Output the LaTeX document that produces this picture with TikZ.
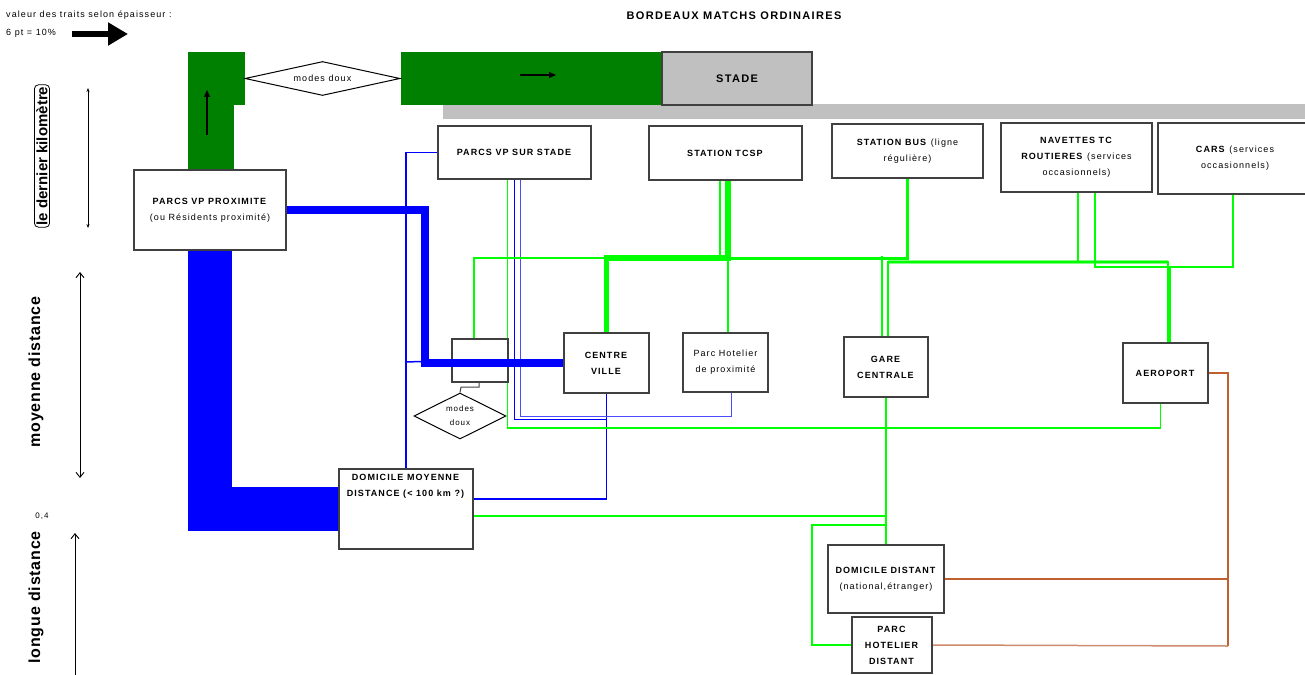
\documentclass[tikz,border=0pt]{standalone}
\usepackage{fontspec}
\setmainfont{Liberation Sans}[LetterSpace=12]
\usetikzlibrary{shapes.geometric,arrows.meta,backgrounds}
\definecolor{fieldgreen}{RGB}{0,128,0}
\definecolor{stadegray}{RGB}{192,192,192}
\definecolor{boxline}{RGB}{64,64,64}
\definecolor{carblue}{RGB}{0,0,255}
\definecolor{tcgreen}{RGB}{0,255,0}
\definecolor{tclight}{RGB}{128,255,128}
\definecolor{airbrown}{RGB}{192,96,48}
\definecolor{airbrownlight}{RGB}{205,140,110}

\begin{document}
\begin{tikzpicture}[x=1pt,y=-1pt]
            \tikzstyle{every node} = [font=\fontsize{9}{16}\selectfont, inner sep=1pt]
            \tikzstyle{site} = [draw=boxline, line width=1.4pt, fill=white, align=center]
            \tikzstyle{douxmode} = [draw=black, line width=1pt, fill=white, diamond, inner sep=0pt, align=center]
            \tikzstyle{zonelabel} = [rotate=90, font=\bfseries\fontsize{16}{18}\selectfont\addfontfeatures{LetterSpace=5}]
            \tikzstyle{carthin} = [carblue, line width=1.5pt]
            \tikzstyle{tcthin} = [tcgreen, line width=1.6pt]
            \tikzstyle{tcmid} = [tcgreen, line width=3pt]
            \tikzstyle{tcthick} = [tcgreen, line width=5.5pt]
            \tikzstyle{airline} = [airbrown, line width=1.5pt]
            \tikzstyle{zonearrow} = [line width=0.9pt, {Straight Barb[length=5pt,width=8pt]}-{Straight Barb[length=5pt,width=8pt]}]
            \useasboundingbox (0,0) rectangle (1305,674);

            % legende et titre
            \node[anchor=west, font=\fontsize{9}{10}\selectfont] (legtext) at (5,15) {valeur des traits selon épaisseur :};
            \node[anchor=west, font=\fontsize{9}{10}\selectfont] (legscale) at (5,33) {6 pt = 10\%};
            \draw[line width=6pt, -{Triangle[length=20pt,width=22pt]}] (72,34) -- (128,34);
            \node[font=\bfseries\fontsize{11}{13}\selectfont] (title) at (734,16) {BORDEAUX MATCHS ORDINAIRES};

            % zones
            \node[draw=black, line width=0.8pt, rounded corners=4pt, rotate=90, inner sep=2pt,
                font=\bfseries\fontsize{15}{17}\selectfont\addfontfeatures{LetterSpace=0}] (lastkm) at (42,156) {le dernier kilomètre};
            \draw[line width=0.8pt, {Stealth[length=4pt,width=3pt]}-{Stealth[length=4pt,width=3pt]}] (88,88) -- (88,228);
            \node[zonelabel] (middist) at (36,372) {moyenne distance};
            \draw[zonearrow] (80,272) -- (80,478);
            \node[font=\fontsize{8}{10}\selectfont] (ratio) at (42,516) {0,4};
            \node[zonelabel, anchor=east] (longdist) at (36,530) {longue distance};
            \draw[zonearrow] (75,533) -- (75,684);

            % lieux
            \node[site, fill=stadegray, minimum width=150pt, minimum height=53pt,
                font=\bfseries\fontsize{11}{13}\selectfont] (stade) at (737,78.5) {STADE};
            \node[douxmode, aspect=4.5, minimum width=155pt, minimum height=34pt] (md1) at (322.5,78.5) {modes doux};
            \node[site, minimum width=152pt, minimum height=80pt] (pvp) at (210,210)
                {\textbf{PARCS VP PROXIMITE}\\(ou Résidents proximité)};
            \node[site, minimum width=153pt, minimum height=53pt] (pvs) at (514.5,152.5) {\textbf{PARCS VP SUR STADE}};
            \node[site, minimum width=153pt, minimum height=54pt] (tcsp) at (725.5,153) {\textbf{STATION TCSP}};
            \node[site, minimum width=151pt, minimum height=54pt] (bus) at (907.5,151) {\textbf{STATION BUS} (ligne\\régulière)};
            \node[site, minimum width=151pt, minimum height=69pt] (nav) at (1076.5,157.5)
                {\textbf{NAVETTES TC}\\\textbf{ROUTIERES} (services\\occasionnels)};
            \node[site, minimum width=154pt, minimum height=71pt] (cars) at (1235,158.5) {\textbf{CARS} (services\\occasionnels)};
            \node[site, minimum width=56pt, minimum height=43pt] (pr) at (480,360.5) {};
            \node[douxmode, aspect=2, minimum width=92pt, minimum height=46pt, font=\fontsize{8}{14}\selectfont] (md2) at (460,416) {modes\\doux};
            \node[site, minimum width=85pt, minimum height=60pt] (cv) at (606.5,363) {\textbf{CENTRE}\\\textbf{VILLE}};
            \node[site, minimum width=85pt, minimum height=59pt] (php) at (725.5,362.5) {Parc Hotelier\\de proximité};
            \node[site, minimum width=84pt, minimum height=60pt] (gc) at (886,367) {\textbf{GARE}\\\textbf{CENTRALE}};
            \node[site, minimum width=85pt, minimum height=60pt] (aero) at (1165.5,373) {\textbf{AEROPORT}};
            \node[site, minimum width=134pt, minimum height=80pt] (dmd) at (406,509)
                {\textbf{DOMICILE MOYENNE}\\\textbf{DISTANCE (< 100 km ?)}\\\mbox{}\\\mbox{}\\\mbox{}};
            \node[site, minimum width=116pt, minimum height=68pt] (dd) at (886,579) {\textbf{DOMICILE DISTANT}\\(national,étranger)};
            \node[site, minimum width=80pt, minimum height=56pt] (phd) at (892,645) {\textbf{PARC}\\\textbf{HOTELIER}\\\textbf{DISTANT}};

            \draw[boxline, line width=1pt] (pr.south -| 479,0) -- (479,387) -- (461,387) -- (md2.north);

            \begin{pgfonlayer}{background}
            \fill[stadegray] (443,104) rectangle (1305,119);
            \draw[fieldgreen, line width=53pt] (md1.east) -- (stade.west);
            \draw[fieldgreen, line width=53pt] (md1.west) -- ++(-57,0);
            \draw[fieldgreen, line width=46pt] ([xshift=1pt]pvp.north) -- ++(0,-67);

            % voitures
            \draw[carblue, line width=44pt] (pvp.south) |- (dmd.west);
            \draw[carthin] (pvs.west) -| (dmd.north);
            \draw[carthin] (406,362) -- (pr.west);
            \draw[carthin] (cv.south) |- ([yshift=10pt]dmd.east);
            \draw[carthin] (pvs.south) -- ++(0,240) -| (cv.south);
            \draw[carthin, carblue!70] ([xshift=6pt]pvs.south) -- ++(0,237) -| ([xshift=6pt]php.south);

            % transports collectifs
            \coordinate (cvj) at (606.5,258);
            \coordinate (tcj) at (728,258);
            \coordinate (aj) at (1168,262);
            \coordinate (ak) at (1170,267);
            \draw[tcthin] ([xshift=-7pt]pvs.south) -- ++(0,248) -| ([xshift=-5pt]aero.south);
            \draw[tcthin] ([xshift=-6pt]pr.north) |- (cvj);
            \draw[tcthick] ([xshift=2.5pt]tcsp.south) |- (cvj) -- (cv.north);
            \draw[tcthin] ([xshift=-5.5pt]tcsp.south) -- ++(0,78);
            \draw[tcthin] (tcj) -- (tcj |- php.north);
            \draw[tcmid] (bus.south) |- (tcj);
            \draw[tcthin] ([xshift=-4pt]gc.north) -- ++(0,-80);
            \draw[tclight, line width=4pt] (888,262) -- (aj);
            \draw[tcthin] ([xshift=2pt]gc.north) |- (aj) -- (aj |- aero.north);
            \draw[tcthin] ([xshift=1.5pt]nav.south) |- (aj);
            \draw[tcthin] ([xshift=18.5pt]nav.south) |- (ak);
            \draw[tcthin] ([xshift=-2pt]cars.south) |- (ak) -- (ak |- aero.north);
            \draw[tcthin] (gc.south) -- (dd.north);
            \draw[tcthin] ([yshift=-7pt]dmd.east) -- (gc.south |- 0,516);
            \draw[tcthin] (gc.south |- 0,525) -- (812,525) |- (phd.west);

            % aeroport
            \coordinate (bj) at (1228,646);
            \draw[airline] (aero.east) -| (bj);
            \draw[airline] (dd.east) -- (dd.east -| bj);
            \draw[airline, airbrownlight] (phd.east) -- (bj);
            \end{pgfonlayer}

            \draw[carblue, line width=7.5pt] (pvp.east) -| (425,363) -- (cv.west);
            \draw[line width=1.1pt, -{Triangle[length=7pt,width=6pt]}] (207,135) -- (207,90);
            \draw[line width=1.1pt, -{Triangle[length=7pt,width=6pt]}] (520,75) -- (556,75);
\end{tikzpicture}
\end{document}
